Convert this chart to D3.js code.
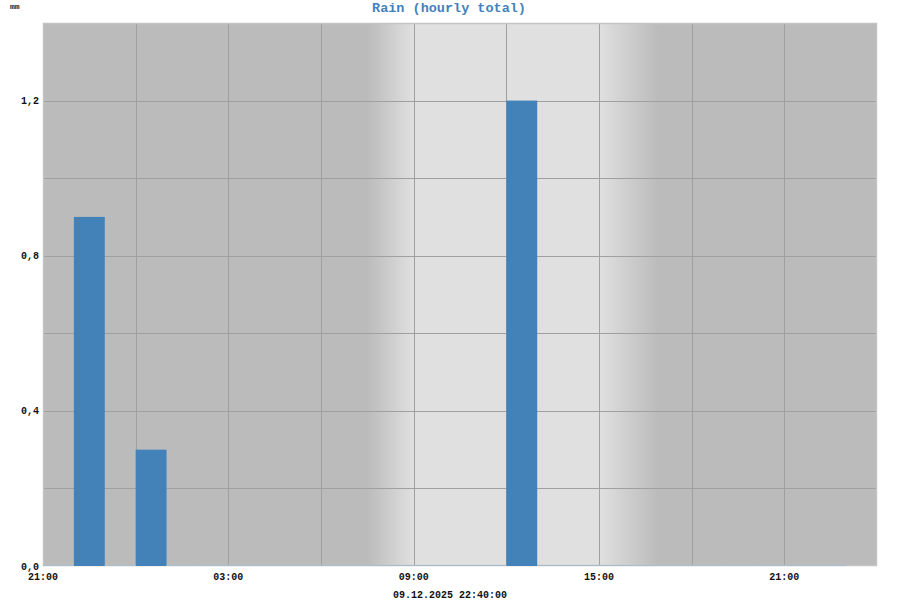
<!DOCTYPE html>
<html>
<head>
<meta charset="utf-8">
<script src="https://cdn.jsdelivr.net/npm/d3@7"></script>
<style>
  html, body { margin: 0; padding: 0; background: #fff; }
  svg { display: block; }
</style>
</head>
<body>
<svg id="chart" width="900" height="600"></svg>
<script>
// ---- data ----
const chartTitle = "Rain (hourly total)";
const unitLabel = "mm";
const stampLabel = "09.12.2025 22:40:00";
const domainStart = "2025-12-08T21:00:00";
const domainEnd = "2025-12-10T00:00:00";
// hourly totals starting 08.12 21:00, one per hour
const hourStarts = d3.range(26).map(i => new Date(new Date(domainStart).getTime() + i * 3600e3));
const rainValues = [0, 0.9, 0, 0.3, 0, 0, 0, 0, 0, 0, 0, 0, 0, 0, 0, 1.2, 0, 0, 0, 0, 0, 0, 0, 0, 0, 0];
const xTickTimes = ["2025-12-08T21:00:00", "2025-12-09T03:00:00", "2025-12-09T09:00:00", "2025-12-09T15:00:00", "2025-12-09T21:00:00"];
const yTicks = [0, 0.4, 0.8, 1.2];
const yGrid = [0.2, 0.4, 0.6, 0.8, 1.0, 1.2];
const yMax = 1.4;
// daylight: fade-in start/end, fade-out start/end
const twilight = ["2025-12-09T07:30:00", "2025-12-09T09:00:00", "2025-12-09T15:00:00", "2025-12-09T16:55:00"];

// ---- layout ----
const svg = d3.select("#chart");
const m = { left: 43, right: 877, top: 23, bottom: 566 };
const font = "'Liberation Mono', 'DejaVu Sans Mono', monospace";

const x = d3.scaleTime().domain([new Date(domainStart), new Date(domainEnd)]).range([m.left, m.right]);
const y = d3.scaleLinear().domain([0, yMax]).range([m.bottom, m.top]);

const night = "#bbbbbb", day = "#e0e0e0";
const tw = twilight.map(t => x(new Date(t)));
const frac = v => (v - m.left) / (m.right - m.left) * 100 + "%";

const defs = svg.append("defs");
const grad = defs.append("linearGradient").attr("id", "bg")
  .attr("x1", "0%").attr("x2", "100%").attr("y1", "0%").attr("y2", "0%");
[[m.left, night], [tw[0], night], [tw[1], day], [tw[2], day], [tw[3], night], [m.right, night]]
  .forEach(([p, c]) => grad.append("stop").attr("offset", frac(p)).attr("stop-color", c));

svg.append("rect")
  .attr("x", m.left).attr("y", m.top)
  .attr("width", m.right - m.left).attr("height", m.bottom - m.top)
  .attr("fill", "url(#bg)");

// grid
const xGridTicks = x.ticks(d3.timeHour.every(3)).filter(t => x(t) > m.left + 1 && x(t) < m.right - 1);
svg.append("g").selectAll("line").data(xGridTicks).join("line")
  .attr("x1", d => Math.round(x(d)) + 0.5).attr("x2", d => Math.round(x(d)) + 0.5)
  .attr("y1", m.top).attr("y2", m.bottom)
  .attr("stroke", "#a0a0a0").attr("stroke-width", 1);
svg.append("g").selectAll("line").data(yGrid).join("line")
  .attr("x1", m.left).attr("x2", m.right)
  .attr("y1", d => Math.round(y(d)) + 0.5).attr("y2", d => Math.round(y(d)) + 0.5)
  .attr("stroke", "#a0a0a0").attr("stroke-width", 1);

// frame
svg.append("rect")
  .attr("x", m.left + 0.5).attr("y", m.top + 0.5)
  .attr("width", m.right - m.left - 1).attr("height", m.bottom - m.top - 1)
  .attr("fill", "none").attr("stroke", "#c4c4c4").attr("stroke-width", 1.5);

// bars
const data = hourStarts.map((t, i) => ({ t, v: rainValues[i] }));
const barColor = "#4382b8";
svg.append("g").selectAll("rect").data(data.filter(d => d.v > 0)).join("rect")
  .attr("x", d => x(d.t))
  .attr("width", d => x(d3.timeHour.offset(d.t, 1)) - x(d.t))
  .attr("y", d => y(d.v))
  .attr("height", d => y(0) - y(d.v))
  .attr("fill", barColor);
// zero-value hours shown as a thin baseline
svg.append("g").selectAll("line").data(data.filter(d => d.v === 0)).join("line")
  .attr("x1", d => x(d.t)).attr("x2", d => x(d3.timeHour.offset(d.t, 1)))
  .attr("y1", y(0) - 0.5).attr("y2", y(0) - 0.5)
  .attr("stroke", "#a9bccd").attr("stroke-width", 1);

// y labels
svg.append("g").selectAll("text").data(yTicks).join("text")
  .attr("x", m.left - 4).attr("y", d => y(d))
  .attr("dy", "0.35em").attr("text-anchor", "end")
  .attr("font-family", font).attr("font-size", 10).attr("font-weight", "bold").attr("fill", "#111")
  .text(d => d3.format(".1f")(d).replace(".", ","));

// x labels
svg.append("g").selectAll("text").data(xTickTimes.map(t => new Date(t))).join("text")
  .attr("x", d => x(d)).attr("y", 576).attr("dy", "0.35em").attr("text-anchor", "middle")
  .attr("font-family", font).attr("font-size", 10).attr("font-weight", "bold").attr("fill", "#111")
  .text(d => d3.timeFormat("%H:%M")(d));

// title and labels
svg.append("text").attr("x", 449).attr("y", 7).attr("dy", "0.35em").attr("text-anchor", "middle")
  .attr("font-family", font).attr("font-size", 13.5).attr("font-weight", "bold").attr("fill", "#3f82bd")
  .text(chartTitle);
svg.append("text").attr("x", 10).attr("y", 6).attr("dy", "0.35em")
  .attr("font-family", font).attr("font-size", 8).attr("font-weight", "bold").attr("fill", "#222")
  .text(unitLabel);
svg.append("text").attr("x", 450).attr("y", 594).attr("dy", "0.35em").attr("text-anchor", "middle")
  .attr("font-family", font).attr("font-size", 10).attr("font-weight", "bold").attr("fill", "#111")
  .text(stampLabel);
</script>
</body>
</html>
